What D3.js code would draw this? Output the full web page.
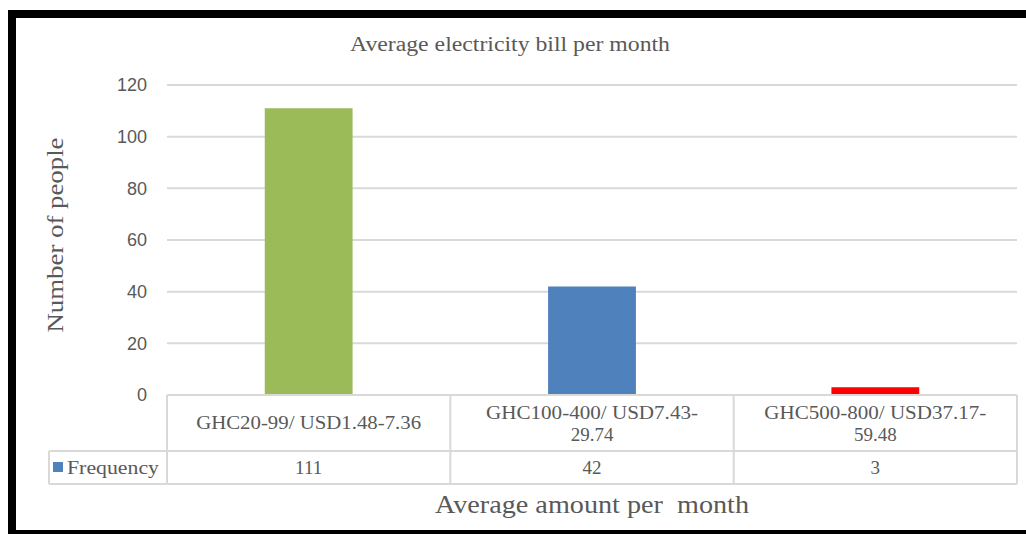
<!DOCTYPE html>
<html>
<head>
<meta charset="utf-8">
<script src="https://cdn.jsdelivr.net/npm/d3@7"></script>
<style>
  html, body { margin: 0; padding: 0; background: #fff; }
  svg { display: block; }
</style>
</head>
<body>
<svg id="chart" width="1026" height="534"></svg>
<script>
// Bill ranges and how many respondents fell in each
const categories = ["GHC20-99/ USD1.48-7.36", "GHC100-400/ USD7.43-29.74", "GHC500-800/ USD37.17-59.48"];
const categoryLines = [["GHC20-99/ USD1.48-7.36"], ["GHC100-400/ USD7.43-", "29.74"], ["GHC500-800/ USD37.17-", "59.48"]];
const frequency = [111, 42, 3];
const barColors = ["#9BBB59", "#4F81BD", "#FF0000"];
const yTicks = [0, 20, 40, 60, 80, 100, 120];
const seriesName = "Frequency";

const svg = d3.select("#chart");
const textGrey = "#595959";
const lineGrey = "#d9d9d9";
const serif = "'Liberation Serif', 'Times New Roman', serif";
const sans = "'Liberation Sans', Arial, sans-serif";

// Frame (black border on top, left and bottom)
svg.append("rect").attr("x", 8).attr("y", 10).attr("width", 1018).attr("height", 8).attr("fill", "#000");
svg.append("rect").attr("x", 8).attr("y", 10).attr("width", 8).attr("height", 524).attr("fill", "#000");
svg.append("rect").attr("x", 8).attr("y", 530).attr("width", 1018).attr("height", 4).attr("fill", "#000");

const x = d3.scaleBand().domain(categories).range([167, 1017]).padding(0);
const y = d3.scaleLinear().domain([0, 120]).range([395, 85]);

// Horizontal gridlines
const yAxis = d3.axisLeft(y).tickValues(yTicks).tickSize(0).tickPadding(20);
const gy = svg.append("g").attr("transform", "translate(167,0)").call(yAxis);
gy.select(".domain").remove();
gy.selectAll("text")
  .attr("fill", textGrey)
  .style("font-family", sans)
  .style("font-size", "18px");

svg.append("g").selectAll("line")
  .data(yTicks.filter(t => t > 0))
  .join("line")
  .attr("x1", 167).attr("x2", 1017)
  .attr("y1", d => y(d)).attr("y2", d => y(d))
  .attr("stroke", lineGrey).attr("stroke-width", 2);

// Bars
const barW = x.bandwidth() * 0.31;
svg.append("g").selectAll("rect")
  .data(frequency)
  .join("rect")
  .attr("x", (d, i) => x(categories[i]) + x.bandwidth() / 2 - barW / 2)
  .attr("y", d => y(d))
  .attr("width", barW)
  .attr("height", d => y(0) - y(d))
  .attr("fill", (d, i) => barColors[i]);

// Data table below the plot
const tableTop = 395, rowSplit = 451, tableBottom = 484, legendLeft = 49;
const tbl = svg.append("g").attr("stroke", lineGrey).attr("stroke-width", 2);
tbl.append("line").attr("x1", 167).attr("x2", 1017).attr("y1", tableTop).attr("y2", tableTop);
tbl.append("line").attr("x1", legendLeft).attr("x2", 1017).attr("y1", rowSplit).attr("y2", rowSplit);
tbl.append("line").attr("x1", legendLeft).attr("x2", 1017).attr("y1", tableBottom).attr("y2", tableBottom);
tbl.append("line").attr("x1", legendLeft).attr("x2", legendLeft).attr("y1", rowSplit).attr("y2", tableBottom);
const bounds = categories.map(c => x(c)).concat([x.range()[1]]);
tbl.selectAll(".v").data(bounds).join("line")
  .attr("x1", d => d).attr("x2", d => d)
  .attr("y1", tableTop).attr("y2", tableBottom);

// Category labels (header row)
const lineWidths = [[225], [212], [222]];
categoryLines.forEach((lines, i) => {
  const cx = x(categories[i]) + x.bandwidth() / 2;
  const ys = lines.length === 1 ? [429] : [419, 441];
  lines.forEach((t, j) => {
    const el = svg.append("text")
      .attr("x", cx).attr("y", ys[j])
      .attr("text-anchor", "middle")
      .attr("fill", textGrey)
      .style("font-family", serif)
      .style("font-size", "19px")
      .text(t);
    if (j === 0) el.attr("textLength", lineWidths[i][0]).attr("lengthAdjust", "spacingAndGlyphs");
  });
});

// Value row
frequency.forEach((v, i) => {
  svg.append("text")
    .attr("x", x(categories[i]) + x.bandwidth() / 2).attr("y", 474)
    .attr("text-anchor", "middle")
    .attr("fill", textGrey)
    .style("font-family", serif)
    .style("font-size", "19px")
    .text(v);
});

// Legend key in the table
svg.append("rect").attr("x", 53).attr("y", 462).attr("width", 10).attr("height", 10).attr("fill", barColors[1]);
svg.append("text").attr("x", 67).attr("y", 474)
  .attr("fill", textGrey)
  .style("font-family", serif).style("font-size", "19px")
  .attr("textLength", 92).attr("lengthAdjust", "spacingAndGlyphs")
  .text(seriesName);

// Title
svg.append("text").attr("x", 510).attr("y", 51)
  .attr("text-anchor", "middle")
  .attr("fill", textGrey)
  .style("font-family", serif).style("font-size", "20px")
  .attr("textLength", 320).attr("lengthAdjust", "spacingAndGlyphs")
  .text("Average electricity bill per month");

// Axis titles
svg.append("text")
  .attr("transform", "translate(63,235) rotate(-90)")
  .attr("text-anchor", "middle")
  .attr("fill", textGrey)
  .style("font-family", serif).style("font-size", "24px")
  .attr("textLength", 195).attr("lengthAdjust", "spacingAndGlyphs")
  .text("Number of people");

svg.append("text").attr("x", 592).attr("y", 513)
  .attr("text-anchor", "middle")
  .attr("fill", textGrey)
  .style("font-family", serif).style("font-size", "25px")
  .attr("textLength", 314).attr("lengthAdjust", "spacingAndGlyphs")
  .style("white-space", "pre")
  .text("Average amount per  month");
</script>
</body>
</html>
